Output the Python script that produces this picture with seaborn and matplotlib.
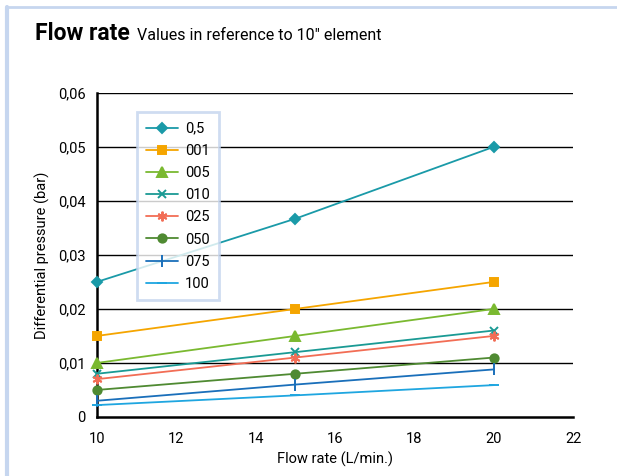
import matplotlib
matplotlib.use("Agg")
import matplotlib.pyplot as plt
import seaborn as sns
from matplotlib.lines import Line2D

flow = [10, 15, 20]
grades = ["0,5", "001", "005", "010", "025", "050", "075", "100"]
pressure = {
    "0,5": [0.025, 0.0367, 0.050],
    "001": [0.015, 0.020, 0.025],
    "005": [0.010, 0.015, 0.020],
    "010": [0.008, 0.012, 0.016],
    "025": [0.007, 0.011, 0.015],
    "050": [0.005, 0.008, 0.011],
    "075": [0.003, 0.006, 0.0088],
    "100": [0.0022, 0.004, 0.0059],
}
colors = ["#1a9aa8", "#f5a500", "#7ab930", "#1a9a94", "#f26d55", "#4f8a32", "#1a6fba", "#1fa6e0"]
markers = ["D", "s", "^", "x", (6, 2, 0), "o", "|", "_"]
sizes = [5, 6, 7, 6, 7, 6, 8, 7]

yticks = [0, 0.01, 0.02, 0.03, 0.04, 0.05, 0.06]
ytick_labels = ["0", "0,01", "0,02", "0,03", "0,04", "0,05", "0,06"]
xticks = [10, 12, 14, 16, 18, 20, 22]

sns.set_style("white")
plt.rcParams["font.family"] = ["Roboto", "DejaVu Sans"]
plt.rcParams["text.color"] = "black"
plt.rcParams["xtick.color"] = "black"
plt.rcParams["ytick.color"] = "black"
plt.rcParams["axes.labelcolor"] = "black"

fig = plt.figure(figsize=(6.17, 4.76), dpi=100)
ax = fig.add_axes([0.157, 0.124, 0.772, 0.681])

# horizontal grid lines
for v in yticks[1:]:
    ax.axhline(v, color="black", lw=1, zorder=1)

for g, c, m, s in zip(grades, colors, markers, sizes):
    sns.lineplot(x=flow, y=pressure[g], ax=ax, color=c, marker=m, markersize=s,
                 markeredgecolor=c, markeredgewidth=1.4, lw=1.3, label=g, zorder=3,
                 clip_on=False)

ax.set_xlim(10, 22)
ax.set_ylim(0, 0.06)
ax.set_xticks(xticks)
ax.set_xticklabels([str(t) for t in xticks])
ax.set_yticks(yticks)
ax.set_yticklabels(ytick_labels)
ax.tick_params(axis="x", direction="out", length=8, width=1.2, color="#555555",
               labelsize=10.5, pad=3)
ax.tick_params(axis="y", direction="out", length=4, width=1.2, color="black",
               labelsize=10.5, pad=4)
for side in ["top", "right"]:
    ax.spines[side].set_visible(False)
for side in ["left", "bottom"]:
    ax.spines[side].set_color("black")
    ax.spines[side].set_linewidth(1.8)

ax.set_xlabel("Flow rate (L/min.)", fontsize=10.5, labelpad=4)
ax.set_ylabel("Differential pressure (bar)", fontsize=10.5, labelpad=6)

leg = ax.legend(loc="upper left", bbox_to_anchor=(0.084, 0.94), borderaxespad=0,
                frameon=True, fancybox=False, fontsize=10.5, handlelength=2.2,
                labelspacing=0.56, borderpad=0.65, handletextpad=0.45)
leg.get_frame().set_edgecolor("#c3d4ee")
leg.get_frame().set_linewidth(2)
leg.set_zorder(5)

# title with subtitle right after it
title = fig.text(0.057, 0.916, "Flow rate", fontsize=16.5, fontweight="bold", va="baseline")
fig.canvas.draw()
bb = title.get_window_extent().transformed(fig.transFigure.inverted())
fig.text(bb.x1 + 0.012, 0.916, "Values in reference to 10\u2033 element", fontsize=11.5,
         va="baseline")

# light blue frame on left and top
fig.add_artist(Line2D([0.011, 0.011], [0, 0.985], transform=fig.transFigure,
                      color="#c6d6ef", lw=3))
fig.add_artist(Line2D([0.009, 1], [0.985, 0.985], transform=fig.transFigure,
                      color="#c6d6ef", lw=2))

fig.savefig("out.png", dpi=100)
